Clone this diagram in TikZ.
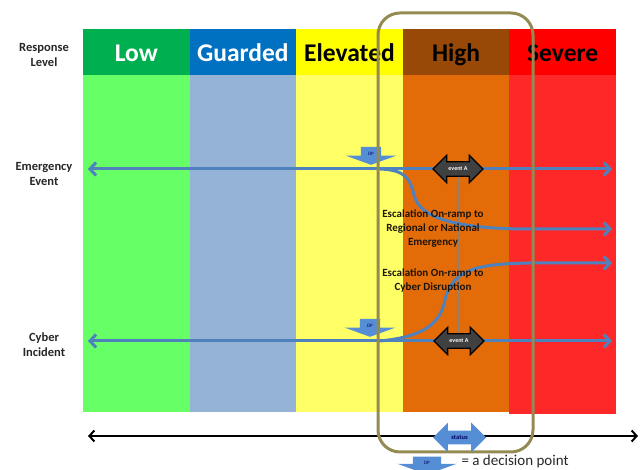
\documentclass[tikz,border=0pt]{standalone}
\usepackage{fontspec}
\setmainfont{Carlito}
\usetikzlibrary{shapes.arrows,arrows.meta}
\definecolor{lowH}{HTML}{00B050}
\definecolor{lowB}{HTML}{66FF66}
\definecolor{guaH}{HTML}{0070C0}
\definecolor{guaB}{HTML}{95B3D7}
\definecolor{eleH}{HTML}{FFFF00}
\definecolor{eleB}{HTML}{FFFF66}
\definecolor{higH}{HTML}{984807}
\definecolor{higB}{HTML}{E36C09}
\definecolor{sevH}{HTML}{FF0000}
\definecolor{sevB}{HTML}{FF2828}
\definecolor{flow}{HTML}{4F81BD}
\definecolor{dpblue}{HTML}{558ED5}
\definecolor{olive}{HTML}{948A54}
\definecolor{evgray}{HTML}{404040}
\definecolor{txt}{HTML}{262626}
\tikzset{
  colbody/.style={rectangle, inner sep=0pt, outer sep=0pt, minimum width=106.6pt, minimum height=337pt},
  colhead/.style={rectangle, inner sep=0pt, outer sep=0pt, minimum width=106.6pt, minimum height=46pt,
    text height=20pt, text depth=1.6pt, font=\fontsize{25.5}{27}\selectfont\bfseries},
  sidelabel/.style={align=center, text=txt, font=\fontsize{12.5}{15}\selectfont\bfseries},
  esclabel/.style={align=center, text=black!85!brown, font=\fontsize{11}{14}\selectfont\bfseries},
  flowline/.style={draw=flow, line width=3pt},
  barb/.tip={Straight Barb[length=6pt,width=13pt]},
  tbarb/.tip={Straight Barb[length=5pt,width=11pt]},
  eventA/.style={double arrow, fill=evgray, draw=black, line width=1.2pt, text=white,
    font=\fontsize{6}{7}\selectfont\bfseries, minimum height=50pt, inner xsep=1pt, inner ysep=4.6pt,
    double arrow head extend=6.5pt, double arrow tip angle=90},
  dparrow/.style={single arrow, shape border rotate=270, fill=dpblue, draw=none,
    font=\fontsize{5}{6}\selectfont, text=blue!40!black, minimum height=18pt,
    inner xsep=7pt, inner ysep=1pt, single arrow head extend=15.5pt, single arrow tip angle=140},
  statusarr/.style={double arrow, fill=dpblue, draw=none, text=blue!40!black,
    font=\fontsize{6.5}{7}\selectfont\bfseries, minimum height=53pt, inner xsep=1pt, inner ysep=4.5pt,
    double arrow head extend=8pt, double arrow tip angle=90},
  frame/.style={draw=olive, line width=3pt, rounded corners=22pt, minimum width=155pt, minimum height=439pt, inner sep=0pt}
}
\begin{document}
\begin{tikzpicture}[x=1pt,y=-1pt]
\path[use as bounding box] (0,0) rectangle (641,470);
\clip (0,0) rectangle (641,470);
% column bodies
\node[colbody, fill=lowB] (lowb) at (136.3,243.5) {};
\node[colbody, fill=guaB] (guab) at (242.9,243.5) {};
\node[colbody, fill=eleB] (eleb) at (349.5,243.5) {};
\node[colbody, fill=higB] (higb) at (456.1,243.5) {};
\node[colbody, fill=sevB, minimum height=339pt] (sevb) at (562.7,244.5) {};
% headers
\node[colhead, fill=lowH, text=white] (lowh) at (136.3,52) {Low};
\node[colhead, fill=guaH, text=white] (guah) at (242.9,52) {Guarded};
\node[colhead, fill=eleH, text=black] (eleh) at (349.5,52) {Elevated};
\node[colhead, fill=higH, text=black] (high) at (456.1,52) {High};
\node[colhead, fill=sevH, text=black] (sevh) at (562.7,52) {Severe};
% side labels
\node[sidelabel] (resp) at (44,55) {Response\\Level};
\node[sidelabel] (emerg) at (44,174) {Emergency\\Event};
\node[sidelabel] (cyber) at (44,345) {Cyber\\Incident};
% coordinates
\coordinate (eL) at (88,169);
\coordinate (eR) at (612,169);
\coordinate (cL) at (88,341);
\coordinate (cR) at (612,341);
\coordinate (esc1s) at (380,169);
\coordinate (esc1e) at (612,229);
\coordinate (esc2s) at (380,341);
\coordinate (esc2e) at (612,263);
% thin vertical connector
\draw[gray!80!brown, line width=0.8pt] (458,169) -- (458,341);
% main flow lines
\draw[flowline, {barb}-{barb}] (eL) -- (eR);
\draw[flowline, {barb}-{barb}] (cL) -- (cR);
% escalation curves
\draw[flowline, -{barb}] (esc1s) .. controls (405,170) and (410,178) .. (414,195)
  .. controls (420,222) and (470,229) .. (530,229) -- (esc1e);
\draw[flowline, -{barb}] (esc2s) .. controls (420,337) and (440,326) .. (445,300)
  .. controls (452,268) and (480,264) .. (530,263) -- (esc2e);
% event A arrows
\node[eventA] (evA1) at (458,169) {event A};
\node[eventA] (evA2) at (459,341) {event A};
% decision points
\node[dparrow] (dp1) at (371,154) {DP};
\node[dparrow] (dp2) at (370,326) {DP};
% escalation labels
\node[esclabel] (esc1) at (433,229) {Escalation On-ramp to\\Regional or National\\Emergency};
\node[esclabel] (esc2) at (433,280) {Escalation On-ramp to\\Cyber Disruption};
% timeline
\coordinate (tL) at (88,436);
\coordinate (tR) at (638,436);
\draw[line width=2pt, {tbarb}-{tbarb}] (tL) -- (tR);
% focus frame
\node[frame] (focus) at (455.5,232.5) {};
% status arrow
\node[statusarr] (status) at (459.5,437.5) {status};
% legend
\node[dparrow, inner xsep=11pt] (dpL) at (427,463) {DP};
\node[anchor=west, text=txt, font=\fontsize{15}{16}\selectfont] (legend) at (458,462) {= a decision point};
\end{tikzpicture}
\end{document}
